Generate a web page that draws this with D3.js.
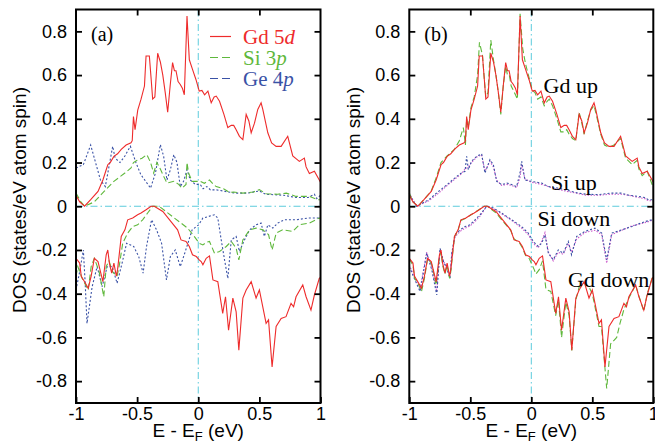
<!DOCTYPE html>
<html><head><meta charset="utf-8">
<script src="https://cdn.jsdelivr.net/npm/d3@7"></script>
<style>
html,body{margin:0;padding:0;background:#fff;}
svg{display:block;}
</style></head>
<body>
<script>
// ---------- DATA ----------
const xTicks = [-1, -0.5, 0, 0.5, 1];
const xMinorTop = [-0.5, 0, 0.5];
const yTicks = [0.8, 0.6, 0.4, 0.2, 0, -0.2, -0.4, -0.6, -0.8];
const legendLabels = [["Gd ", "5", "d"], ["Si ", "3", "p"], ["Ge ", "4", "p"]];

// Panel (a): [E - E_F (eV), DOS]
const gdUp = [[-1.0,0.05],[-0.97,0.02],[-0.93,0.0],[-0.88,0.03],[-0.82,0.068],[-0.78,0.12],[-0.74,0.19],[-0.72,0.2],[-0.69,0.228],[-0.66,0.24],[-0.63,0.26],[-0.59,0.28],[-0.55,0.29],[-0.54,0.3],[-0.53,0.41],[-0.517,0.35],[-0.495,0.44],[-0.468,0.49],[-0.44,0.55],[-0.427,0.687],[-0.4,0.687],[-0.385,0.58],[-0.373,0.49],[-0.355,0.5],[-0.332,0.7],[-0.31,0.66],[-0.29,0.6],[-0.27,0.52],[-0.25,0.43],[-0.23,0.55],[-0.21,0.657],[-0.195,0.62],[-0.182,0.62],[-0.165,0.57],[-0.147,0.557],[-0.13,0.54],[-0.114,0.51],[-0.092,0.87],[-0.073,0.67],[-0.047,0.626],[-0.019,0.58],[0.008,0.527],[0.03,0.53],[0.052,0.51],[0.079,0.527],[0.106,0.473],[0.13,0.5],[0.147,0.504],[0.174,0.48],[0.21,0.42],[0.242,0.36],[0.27,0.37],[0.29,0.37],[0.31,0.35],[0.337,0.32],[0.365,0.305],[0.392,0.42],[0.414,0.39],[0.433,0.336],[0.46,0.38],[0.487,0.443],[0.514,0.473],[0.528,0.443],[0.569,0.336],[0.6,0.29],[0.637,0.274],[0.678,0.274],[0.732,0.32],[0.773,0.23],[0.827,0.205],[0.868,0.22],[0.882,0.18],[0.909,0.15],[0.95,0.16],[0.99,0.12],[1.0,0.11]];
const siUp = [[-1.0,0.06],[-0.96,0.02],[-0.93,0.0],[-0.85,0.02],[-0.77,0.068],[-0.69,0.114],[-0.6,0.152],[-0.55,0.175],[-0.53,0.2],[-0.5,0.21],[-0.46,0.22],[-0.42,0.236],[-0.39,0.2],[-0.365,0.152],[-0.338,0.2],[-0.31,0.17],[-0.283,0.137],[-0.256,0.106],[-0.2,0.114],[-0.16,0.1],[-0.133,0.083],[-0.1,0.1],[-0.092,0.2],[-0.079,0.152],[-0.05,0.114],[0.016,0.114],[0.05,0.105],[0.092,0.12],[0.125,0.1],[0.147,0.09],[0.207,0.08],[0.256,0.063],[0.29,0.065],[0.365,0.06],[0.45,0.065],[0.5,0.076],[0.555,0.057],[0.65,0.055],[0.72,0.06],[0.8,0.045],[0.909,0.045],[0.977,0.03],[1.0,0.03]];
const geUp = [[-1.0,0.175],[-0.94,0.19],[-0.88,0.28],[-0.84,0.2],[-0.8,0.12],[-0.76,0.09],[-0.7,0.274],[-0.68,0.22],[-0.64,0.2],[-0.6,0.23],[-0.555,0.274],[-0.51,0.2],[-0.47,0.145],[-0.43,0.114],[-0.39,0.083],[-0.35,0.152],[-0.31,0.282],[-0.283,0.228],[-0.256,0.12],[-0.228,0.167],[-0.2,0.236],[-0.174,0.2],[-0.147,0.09],[-0.12,0.114],[-0.092,0.167],[-0.065,0.12],[-0.024,0.1],[0.016,0.1],[0.04,0.08],[0.07,0.09],[0.1,0.075],[0.15,0.075],[0.2,0.07],[0.3,0.06],[0.4,0.06],[0.5,0.07],[0.55,0.055],[0.7,0.05],[0.8,0.04],[0.9,0.04],[0.95,0.055],[0.97,0.035],[1.0,0.05]];
const gdDown = [[-1.0,-0.238],[-0.97,-0.26],[-0.957,-0.32],[-0.93,-0.345],[-0.9,-0.375],[-0.876,-0.32],[-0.85,-0.238],[-0.82,-0.253],[-0.81,-0.276],[-0.78,-0.345],[-0.753,-0.222],[-0.74,-0.2],[-0.727,-0.26],[-0.708,-0.306],[-0.69,-0.26],[-0.67,-0.32],[-0.66,-0.29],[-0.63,-0.138],[-0.6,-0.108],[-0.577,-0.062],[-0.536,-0.054],[-0.496,-0.039],[-0.468,-0.031],[-0.427,-0.016],[-0.386,0.0],[-0.36,0.0],[-0.29,-0.024],[-0.223,-0.07],[-0.169,-0.108],[-0.141,-0.154],[-0.1,-0.161],[-0.073,-0.184],[-0.047,-0.222],[-0.016,-0.23],[0.008,-0.245],[0.024,-0.253],[0.038,-0.268],[0.065,-0.238],[0.092,-0.227],[0.12,-0.337],[0.16,-0.345],[0.2,-0.49],[0.223,-0.414],[0.248,-0.567],[0.283,-0.42],[0.31,-0.483],[0.332,-0.658],[0.365,-0.42],[0.392,-0.383],[0.433,-0.345],[0.473,-0.42],[0.5,-0.383],[0.555,-0.536],[0.575,-0.52],[0.604,-0.735],[0.637,-0.55],[0.678,-0.513],[0.718,-0.505],[0.759,-0.444],[0.78,-0.46],[0.8,-0.414],[0.855,-0.36],[0.882,-0.414],[0.922,-0.475],[0.95,-0.406],[0.99,-0.33],[1.0,-0.325]];
const siDown = [[-1.0,-0.32],[-0.985,-0.276],[-0.95,-0.33],[-0.9,-0.383],[-0.876,-0.276],[-0.85,-0.238],[-0.81,-0.3],[-0.773,-0.414],[-0.753,-0.276],[-0.73,-0.25],[-0.7,-0.3],[-0.664,-0.32],[-0.645,-0.268],[-0.618,-0.169],[-0.577,-0.123],[-0.536,-0.093],[-0.496,-0.085],[-0.455,-0.062],[-0.414,-0.031],[-0.373,0.0],[-0.32,0.0],[-0.264,-0.024],[-0.196,-0.054],[-0.141,-0.077],[-0.087,-0.1],[-0.033,-0.138],[0.008,-0.169],[0.038,-0.177],[0.065,-0.165],[0.092,-0.161],[0.133,-0.215],[0.174,-0.207],[0.229,-0.184],[0.27,-0.161],[0.31,-0.192],[0.332,-0.245],[0.365,-0.154],[0.42,-0.108],[0.473,-0.1],[0.528,-0.108],[0.575,-0.13],[0.604,-0.2],[0.637,-0.123],[0.69,-0.108],[0.773,-0.115],[0.827,-0.085],[0.909,-0.077],[0.99,-0.054],[1.0,-0.055]];
const geDown = [[-1.0,-0.383],[-0.97,-0.3],[-0.94,-0.2],[-0.925,-0.35],[-0.91,-0.536],[-0.868,-0.368],[-0.827,-0.276],[-0.786,-0.368],[-0.745,-0.276],[-0.704,-0.276],[-0.664,-0.352],[-0.623,-0.26],[-0.586,-0.169],[-0.528,-0.184],[-0.487,-0.23],[-0.451,-0.306],[-0.423,-0.184],[-0.382,-0.062],[-0.341,-0.108],[-0.3,-0.169],[-0.26,-0.337],[-0.228,-0.23],[-0.188,-0.2],[-0.147,-0.276],[-0.106,-0.207],[-0.05,-0.108],[0.003,-0.085],[0.038,-0.054],[0.133,-0.039],[0.16,-0.054],[0.188,-0.154],[0.215,-0.245],[0.242,-0.33],[0.27,-0.154],[0.31,-0.138],[0.337,-0.207],[0.378,-0.154],[0.42,-0.108],[0.473,-0.085],[0.514,-0.077],[0.541,-0.138],[0.569,-0.085],[0.61,-0.1],[0.65,-0.077],[0.705,-0.062],[0.8,-0.062],[0.9,-0.054],[0.99,-0.054],[1.0,-0.055]];

// Panel (b)
const gdUpB = gdUp;
const gdDownB = gdDown;
const gdUpB2 = [[-1.0,0.06],[-0.97,0.02],[-0.93,0.0],[-0.88,0.03],[-0.82,0.07],[-0.78,0.13],[-0.74,0.2],[-0.69,0.23],[-0.63,0.26],[-0.59,0.3],[-0.557,0.36],[-0.54,0.28],[-0.53,0.4],[-0.517,0.36],[-0.495,0.45],[-0.468,0.5],[-0.44,0.6],[-0.425,0.75],[-0.4,0.69],[-0.385,0.58],[-0.373,0.5],[-0.355,0.52],[-0.332,0.76],[-0.31,0.67],[-0.29,0.6],[-0.27,0.52],[-0.25,0.42],[-0.23,0.55],[-0.21,0.64],[-0.195,0.6],[-0.18,0.6],[-0.165,0.55],[-0.147,0.53],[-0.13,0.51],[-0.114,0.49],[-0.092,0.88],[-0.07,0.72],[-0.047,0.65],[-0.019,0.59],[0.008,0.53],[0.03,0.52],[0.052,0.49],[0.079,0.5],[0.106,0.46],[0.13,0.48],[0.147,0.49],[0.174,0.46],[0.21,0.4],[0.242,0.34],[0.27,0.34],[0.29,0.35],[0.31,0.33],[0.337,0.31],[0.365,0.3],[0.392,0.43],[0.414,0.38],[0.433,0.33],[0.46,0.39],[0.487,0.44],[0.514,0.46],[0.528,0.43],[0.569,0.33],[0.6,0.28],[0.637,0.27],[0.678,0.28],[0.732,0.31],[0.773,0.22],[0.827,0.19],[0.868,0.21],[0.882,0.17],[0.909,0.14],[0.95,0.16],[0.99,0.1],[1.0,0.1]];
const gdDownB2 = [[-1.0,-0.24],[-0.97,-0.27],[-0.957,-0.33],[-0.93,-0.35],[-0.9,-0.39],[-0.876,-0.33],[-0.85,-0.24],[-0.82,-0.26],[-0.81,-0.28],[-0.78,-0.36],[-0.753,-0.23],[-0.74,-0.21],[-0.727,-0.27],[-0.708,-0.31],[-0.69,-0.27],[-0.67,-0.33],[-0.66,-0.3],[-0.63,-0.14],[-0.6,-0.11],[-0.577,-0.065],[-0.536,-0.055],[-0.496,-0.04],[-0.468,-0.03],[-0.427,-0.015],[-0.386,0.0],[-0.36,0.0],[-0.29,-0.03],[-0.223,-0.075],[-0.169,-0.11],[-0.141,-0.15],[-0.1,-0.165],[-0.073,-0.19],[-0.047,-0.225],[-0.016,-0.24],[0.008,-0.27],[0.024,-0.29],[0.038,-0.31],[0.065,-0.29],[0.092,-0.25],[0.12,-0.38],[0.16,-0.39],[0.2,-0.5],[0.223,-0.43],[0.248,-0.6],[0.283,-0.44],[0.31,-0.5],[0.332,-0.66],[0.365,-0.43],[0.392,-0.37],[0.433,-0.35],[0.473,-0.37],[0.5,-0.4],[0.555,-0.55],[0.575,-0.55],[0.618,-0.834],[0.65,-0.63],[0.7,-0.6],[0.727,-0.536],[0.76,-0.47],[0.8,-0.42],[0.855,-0.36],[0.882,-0.41],[0.922,-0.48],[0.95,-0.4],[0.99,-0.33],[1.0,-0.32]];
const siUpB = [[-1.0,0.053],[-0.94,0.0],[-0.84,0.03],[-0.76,0.068],[-0.69,0.099],[-0.625,0.13],[-0.58,0.15],[-0.543,0.16],[-0.53,0.228],[-0.516,0.167],[-0.49,0.206],[-0.448,0.228],[-0.407,0.24],[-0.38,0.152],[-0.339,0.213],[-0.311,0.19],[-0.284,0.114],[-0.243,0.099],[-0.2,0.106],[-0.16,0.099],[-0.12,0.09],[-0.093,0.152],[-0.079,0.206],[-0.052,0.12],[0.0,0.114],[0.085,0.106],[0.14,0.09],[0.2,0.085],[0.276,0.076],[0.385,0.06],[0.45,0.055],[0.55,0.053],[0.65,0.06],[0.74,0.06],[0.8,0.05],[0.877,0.045],[0.93,0.04],[0.96,0.03],[1.0,0.03]];
const siUpB2 = [[-1,0.06],[-0.94,0.0],[-0.84,0.025],[-0.76,0.06],[-0.69,0.095],[-0.625,0.125],[-0.58,0.145],[-0.543,0.17],[-0.516,0.18],[-0.49,0.2],[-0.448,0.225],[-0.407,0.235],[-0.38,0.16],[-0.339,0.205],[-0.311,0.18],[-0.284,0.12],[-0.243,0.095],[-0.2,0.1],[-0.16,0.095],[-0.12,0.085],[-0.093,0.13],[-0.079,0.19],[-0.052,0.125],[0,0.11],[0.085,0.1],[0.14,0.09],[0.2,0.08],[0.276,0.07],[0.385,0.058],[0.45,0.05],[0.55,0.05],[0.65,0.055],[0.74,0.055],[0.8,0.05],[0.877,0.04],[0.93,0.035],[0.96,0.025],[1,0.025]];
const siDownB = [[-1.0,-0.276],[-0.967,-0.32],[-0.912,-0.39],[-0.857,-0.215],[-0.816,-0.29],[-0.775,-0.406],[-0.748,-0.192],[-0.72,-0.253],[-0.693,-0.284],[-0.666,-0.33],[-0.652,-0.215],[-0.625,-0.131],[-0.584,-0.108],[-0.543,-0.093],[-0.502,-0.085],[-0.461,-0.062],[-0.42,-0.039],[-0.366,0.0],[-0.311,-0.008],[-0.243,-0.031],[-0.16,-0.062],[-0.079,-0.093],[-0.025,-0.123],[0.016,-0.161],[0.057,-0.184],[0.085,-0.169],[0.112,-0.131],[0.14,-0.215],[0.18,-0.245],[0.221,-0.2],[0.262,-0.215],[0.303,-0.161],[0.33,-0.222],[0.372,-0.138],[0.44,-0.115],[0.522,-0.1],[0.577,-0.123],[0.618,-0.245],[0.659,-0.123],[0.741,-0.108],[0.823,-0.093],[0.932,-0.07],[0.99,-0.062],[1.0,-0.06]];
const siDownB2 = [[-1,-0.27],[-0.967,-0.31],[-0.912,-0.38],[-0.857,-0.21],[-0.816,-0.28],[-0.775,-0.39],[-0.748,-0.2],[-0.72,-0.25],[-0.693,-0.28],[-0.666,-0.32],[-0.652,-0.22],[-0.625,-0.14],[-0.584,-0.115],[-0.543,-0.1],[-0.502,-0.09],[-0.461,-0.07],[-0.42,-0.045],[-0.366,0],[-0.311,-0.01],[-0.243,-0.035],[-0.16,-0.065],[-0.079,-0.1],[-0.025,-0.13],[0.016,-0.17],[0.057,-0.19],[0.085,-0.16],[0.112,-0.12],[0.14,-0.21],[0.18,-0.25],[0.221,-0.21],[0.262,-0.22],[0.303,-0.17],[0.33,-0.21],[0.372,-0.15],[0.44,-0.12],[0.522,-0.11],[0.577,-0.13],[0.618,-0.26],[0.659,-0.13],[0.741,-0.11],[0.823,-0.09],[0.932,-0.075],[0.99,-0.065],[1,-0.06]];

// ---------- DRAW ----------
const W = 655, H = 444;
const RED = "#ee2b2b", GREEN = "#5fb83c", BLUE = "#3a52a6", PURPLE = "#cc5ccc", CYAN = "#5ccbdc";
const svg = d3.select("body").append("svg").attr("width", W).attr("height", H);
const y = d3.scaleLinear().domain([-0.9, 0.9]).range([403, 9.5]);
const SANS = "'Liberation Sans', Arial, Helvetica, sans-serif";
const SERIF = "'Liberation Serif', 'Times New Roman', serif";
const fmt = v => v === 0 ? "0" : v.toFixed(1);

function panel(x0, x1, tag, series, titleX) {
  const x = d3.scaleLinear().domain([-1, 1]).range([x0, x1]);
  const g = svg.append("g");
  const line = d3.line().x(d => x(d[0])).y(d => y(d[1]));
  // reference dash-dot lines
  g.append("line").attr("x1", x0).attr("x2", x1).attr("y1", y(0)).attr("y2", y(0))
    .attr("stroke", CYAN).attr("stroke-width", 1).attr("stroke-dasharray", "7,3,1.5,3");
  g.append("line").attr("x1", x(0)).attr("x2", x(0)).attr("y1", y(0.9)).attr("y2", y(-0.9))
    .attr("stroke", CYAN).attr("stroke-width", 1).attr("stroke-dasharray", "7,3,1.5,3");
  series.forEach(s => {
    g.append("path").datum(s.data).attr("d", line).attr("fill", "none")
      .attr("stroke", s.color).attr("stroke-width", s.w || 1.1)
      .attr("stroke-dasharray", s.dash || null);
  });
  // axes
  const ax = (a, tr) => g.append("g").attr("transform", tr).call(a).call(s => s.select(".domain").remove());
  const left = ax(d3.axisLeft(y).tickValues(yTicks).tickSize(-6).tickPadding(9).tickFormat(fmt), `translate(${x0},0)`);
  ax(d3.axisRight(y).tickValues(yTicks).tickSize(-6).tickFormat(""), `translate(${x1},0)`);
  ax(d3.axisTop(x).tickValues(xMinorTop).tickSize(-6).tickFormat(""), `translate(0,${y(0.9)})`);
  const bottom = ax(d3.axisBottom(x).tickValues(xTicks).tickSize(-6).tickPadding(4).tickFormat(d => d === 0 ? "0" : String(d)), `translate(0,${y(-0.9)})`);
  g.selectAll(".tick line").attr("stroke", "#000").attr("stroke-width", 1.8);
  g.selectAll(".tick text").attr("font-family", SANS).attr("font-size", 18).attr("fill", "#000");
  g.append("rect").attr("x", x0).attr("y", y(0.9)).attr("width", x1 - x0).attr("height", y(-0.9) - y(0.9))
    .attr("fill", "none").attr("stroke", "#000").attr("stroke-width", 2);
  // titles
  const xt = g.append("text").attr("x", (x0 + x1) / 2).attr("y", 437).attr("text-anchor", "middle")
    .attr("font-family", SANS).attr("font-size", 19);
  xt.append("tspan").text("E - E");
  xt.append("tspan").attr("font-size", 13).attr("dy", 4).text("F");
  xt.append("tspan").attr("dy", -4).text(" (eV)");
  g.append("text").attr("transform", `translate(${titleX},200) rotate(-90)`).attr("text-anchor", "middle")
    .attr("font-family", SANS).attr("font-size", 19).text("DOS (states/eV atom spin)");
  g.append("text").attr("x", x0 + 15).attr("y", 41).attr("font-family", SERIF).attr("font-size", 20).text(tag);
  return x;
}

panel(76, 320.5, "(a)", [
  {data: geUp, color: BLUE, dash: "2,2"},
  {data: geDown, color: BLUE, dash: "2,2"},
  {data: siUp, color: GREEN, dash: "6,3"},
  {data: siDown, color: GREEN, dash: "6,3"},
  {data: gdUp, color: RED},
  {data: gdDown, color: RED}
], 25.5);

// legend (a)
const legColors = [RED, GREEN, BLUE];
const legDash = [null, "8,4", "8,4"];
legendLabels.forEach((lab, i) => {
  const by = 43.5 + i * 21;
  svg.append("line").attr("x1", 210).attr("x2", 231).attr("y1", by - 7).attr("y2", by - 7)
    .attr("stroke", legColors[i]).attr("stroke-width", 1.2).attr("stroke-dasharray", legDash[i]);
  const t = svg.append("text").attr("x", 243).attr("y", by).attr("font-family", SERIF).attr("font-size", 21).attr("fill", legColors[i]);
  t.append("tspan").text(lab[0] + lab[1]);
  t.append("tspan").attr("font-style", "italic").text(lab[2]);
});

panel(409.3, 653.3, "(b)", [
  {data: siUpB2, color: PURPLE, dash: "1.5,1.5"},
  {data: siDownB2, color: PURPLE, dash: "1.5,1.5"},
  {data: siUpB, color: BLUE, dash: "2,2"},
  {data: siDownB, color: BLUE, dash: "2,2"},
  {data: gdUpB2, color: GREEN, dash: "6,3"},
  {data: gdDownB2, color: GREEN, dash: "6,3"},
  {data: gdUpB, color: RED},
  {data: gdDownB, color: RED}
], 360);

const ann = [["Gd up", 543.5, 93], ["Si up", 551, 190], ["Si down", 537.5, 226], ["Gd down", 568, 287]];
ann.forEach(a => svg.append("text").attr("x", a[1]).attr("y", a[2]).attr("font-family", SERIF)
  .attr("font-size", 22).attr("fill", "#000").text(a[0]));
</script>
</body></html>
